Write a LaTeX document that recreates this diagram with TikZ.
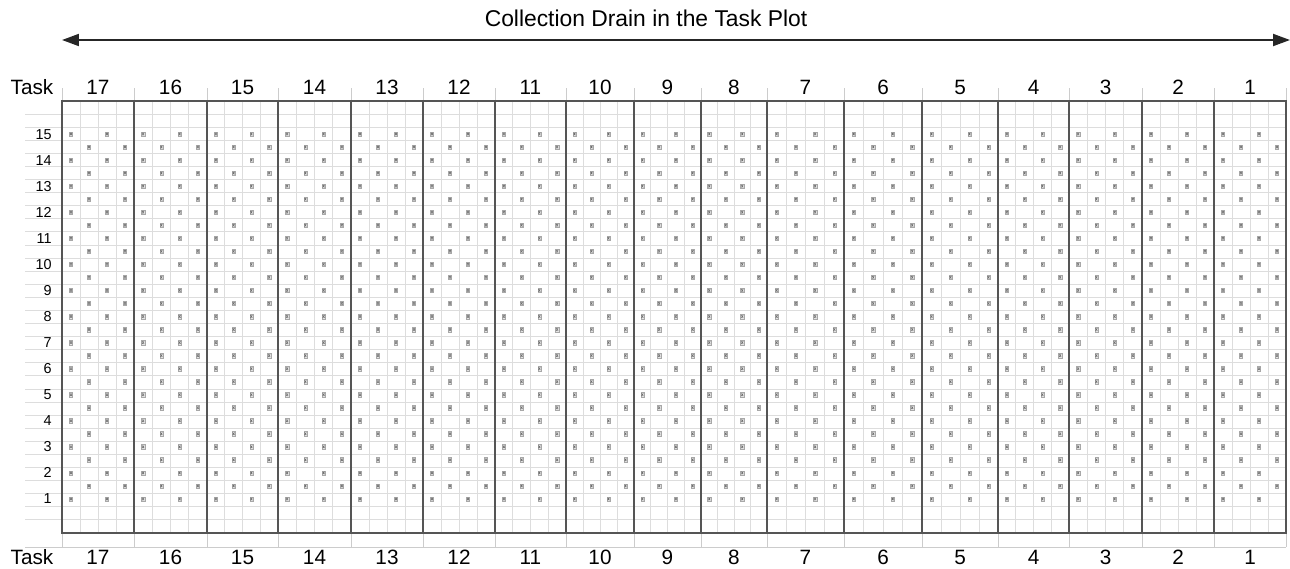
\documentclass[tikz,border=0pt]{standalone}
\usepackage{fontspec}
\setmainfont{Liberation Sans}
\usetikzlibrary{arrows.meta}
\definecolor{framec}{HTML}{555555}
\definecolor{gridc}{HTML}{DDDDDD}
\definecolor{tickc}{HTML}{CCCCCC}
\definecolor{dotc}{HTML}{6E6E6E}
\definecolor{dotbg}{HTML}{E4E4E4}
\tikzset{
  >={Triangle[length=3.4mm,width=2.4mm]},
  span/.style={<->,line width=1.1pt,draw=black!85},
  title/.style={font=\fontsize{13}{15}\selectfont,anchor=base,inner sep=0pt},
  colno/.style={font=\fontsize{11.8}{13}\selectfont,anchor=base,inner sep=0pt},
  rowno/.style={font=\fontsize{8.2}{9}\selectfont,anchor=base east,inner sep=0pt},
  gridline/.style={draw=gridc,line width=0.5pt},
  tickline/.style={draw=tickc,line width=0.5pt},
  frameline/.style={draw=framec,line width=0.8pt},
  xmark/.pic={\filldraw[fill=dotbg,draw=dotc!60,line width=0.2pt] (-1.6,-2.2) rectangle (1.6,2.2);
              \draw[dotc,line width=0.35pt] (-0.9,-1.2) -- (0.9,1.2) (-0.9,1.2) -- (0.9,-1.2);},
}

\begin{document}
\begin{tikzpicture}[x=0.02cm,y=-0.02cm]
  \useasboundingbox (0,0) rectangle (1290,568);
  % title and span arrow
  \coordinate (arrL) at (62,40);
  \coordinate (arrR) at (1290,40);
  \draw[span] (arrL) -- (arrR);
  \node[title] (ttl) at (646,27) {Collection Drain in the Task Plot};
  % horizontal rulings
  \foreach \k in {1,...,32}
    \draw[gridline] (25,{101+13.09*\k}) -- (1286,{101+13.09*\k});
  \draw[tickline] (25,547) -- (1286,547);
  \draw[tickline] (1286,88) -- (1286,101) (1286,533) -- (1286,547);
  % row numbers
  \foreach \lab [count=\r from 0] in {15,...,1}
    \node[rowno] (row\lab) at (52,{139+26.07*\r}) {\lab};
  % task columns
  \foreach \a/\b/\n/\wt in {62/134/17/1.4, 134/207/16/0.8, 207/278/15/1.4, 278/351/14/0.8,
      351/423/13/1.4, 423/495/12/1.4, 495/566/11/0.8, 566/634/10/1.4, 634/701/9/1.4,
      701/767/8/0.8, 767/844/7/0.9, 844/922/6/0.8, 922/998/5/0.8, 998/1069/4/0.8,
      1069/1142/3/1.4, 1142/1214/2/0.8, 1214/1286/1/1.4} {
    \pgfmathsetmacro\w{(\b-\a)/4}
    \foreach \s in {1,2,3}
      \draw[gridline] ({\a+\s*\w},101) -- ({\a+\s*\w},533);
    \draw[tickline] (\a,88) -- (\a,101) (\a,533) -- (\a,547);
    \foreach \r in {0,...,14} {
      \pic at ({\a+0.5*\w},{134+26.07*\r}) {xmark};
      \pic at ({\a+2.5*\w},{134+26.07*\r}) {xmark};
    }
    \foreach \r in {0,...,13} {
      \pic at ({\a+1.5*\w},{147+26.07*\r}) {xmark};
      \pic at ({\a+3.5*\w},{147+26.07*\r}) {xmark};
    }
    \draw[frameline,line width=\wt pt] (\a,101) -- (\a,533);
    \node[colno] (top\n) at ({(\a+\b)/2},94) {\n};
    \node[colno] (bot\n) at ({(\a+\b)/2},564) {\n};
  }
  \draw[frameline] (62,101) rectangle (1286,533);
  \node[colno] (taskTop) at (32,94) {Task};
  \node[colno] (taskBot) at (32,564) {Task};
\end{tikzpicture}
\end{document}
